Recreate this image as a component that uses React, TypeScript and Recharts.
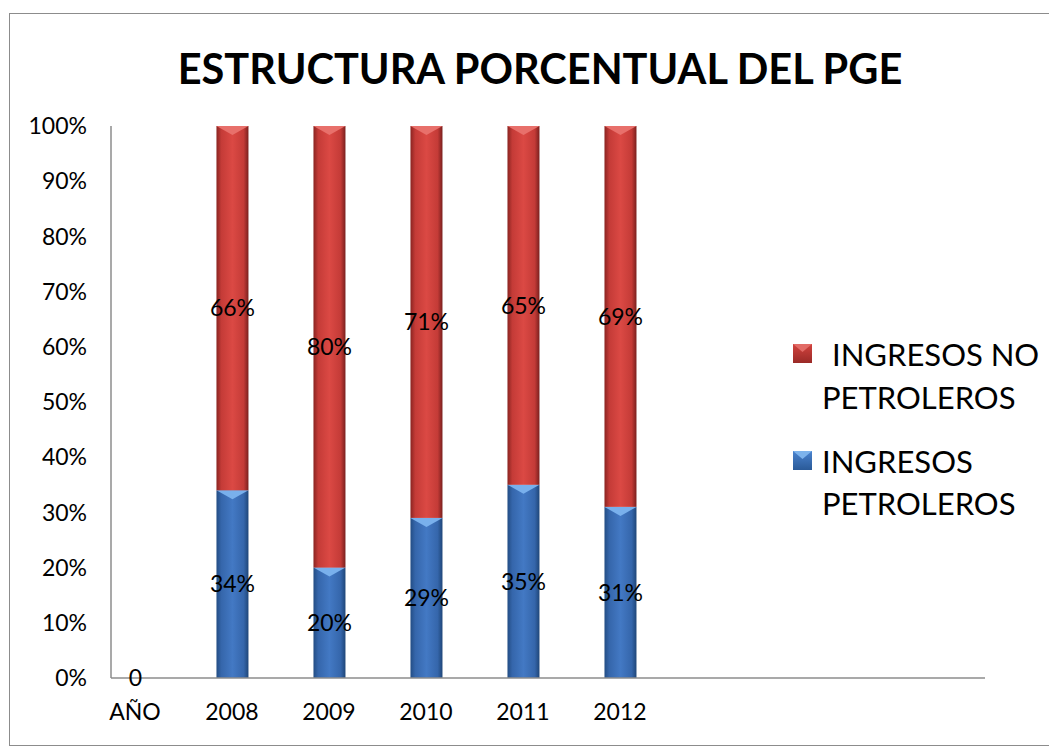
import { BarChart, Bar, XAxis, YAxis, LabelList, Legend } from "recharts";

const categories = ["AÑO", "2008", "2009", "2010", "2011", "2012"];
const petroleros = [0, 34, 20, 29, 35, 31];
const noPetroleros = [0, 66, 80, 71, 65, 69];
const yTicks = [0, 10, 20, 30, 40, 50, 60, 70, 80, 90, 100];

const data = categories.map((c, i) => ({
  idx: i,
  name: c,
  petro: petroleros[i],
  noPetro: noPetroleros[i],
}));

const FONT = "Lato, 'Open Sans', sans-serif";

function BevelBar(props: any) {
  const { x, y, width, height, fill, tip } = props;
  if (!height || height <= 0) return null;
  const b = Math.min(9, height / 2);
  return (
    <g>
      <rect x={x} y={y} width={width} height={height} fill={fill} />
      <polygon points={`${x},${y} ${x + width},${y} ${x + width / 2},${y + b}`} fill={tip} />
    </g>
  );
}

function LegendBox({ color, tip }: { color: string; tip: string }) {
  return (
    <svg width={19} height={19} style={{ position: "absolute", left: 0, top: 0 }}>
      <rect x={0} y={0} width={19} height={19} fill={color} />
      <polygon points="0,0 19,0 9.5,8" fill={tip} />
    </svg>
  );
}

function CustomLegend() {
  const txt: React.CSSProperties = { fontFamily: FONT, fontSize: 31, color: "#000", lineHeight: "42px", whiteSpace: "nowrap" };
  return (
    <div style={{ position: "absolute", left: 785, top: 325, width: 270 }}>
      <div style={{ position: "relative", height: 111 }}>
        <div style={{ position: "absolute", left: 0, top: 11 }}>
          <LegendBox color="url(#redLeg)" tip="#e26b66" />
        </div>
        <div style={{ ...txt, position: "absolute", left: 39, top: 0 }}>INGRESOS NO</div>
        <div style={{ ...txt, position: "absolute", left: 29, top: 43 }}>PETROLEROS</div>
      </div>
      <div style={{ position: "relative", height: 104 }}>
        <div style={{ position: "absolute", left: 0, top: 7 }}>
          <LegendBox color="url(#blueLeg)" tip="#7db3ec" />
        </div>
        <div style={{ ...txt, position: "absolute", left: 29, top: -4 }}>INGRESOS</div>
        <div style={{ ...txt, position: "absolute", left: 29, top: 38 }}>PETROLEROS</div>
      </div>
    </div>
  );
}

export default function App() {
  return (
    <div style={{ position: "relative", width: 1049, height: 745, background: "#fff" }}>
      <div
        style={{
          position: "absolute",
          left: 1,
          top: 5,
          width: 1041,
          height: 733,
          border: "1px solid #8c8c8c",
          boxSizing: "border-box",
        }}
      />
      <div
        style={{
          position: "absolute",
          left: 532,
          top: 35,
          transform: "translateX(-50%)",
          whiteSpace: "nowrap",
          fontFamily: FONT,
          fontWeight: 700,
          fontSize: 41.5,
          lineHeight: "50px",
          color: "#000",
        }}
      >
        ESTRUCTURA PORCENTUAL DEL PGE
      </div>
      <div style={{ position: "absolute", left: 0, top: 0 }}>
        <BarChart width={1049} height={745} data={data} margin={{ top: 118, right: 72, bottom: 35, left: 43 }}>
          <defs>
            <linearGradient id="redGrad" x1="0" y1="0" x2="1" y2="0">
              <stop offset="0" stopColor="#8a2421" />
              <stop offset="0.15" stopColor="#c43b37" />
              <stop offset="0.5" stopColor="#db4944" />
              <stop offset="0.85" stopColor="#c43b37" />
              <stop offset="1" stopColor="#7a201e" />
            </linearGradient>
            <linearGradient id="blueGrad" x1="0" y1="0" x2="1" y2="0">
              <stop offset="0" stopColor="#234d84" />
              <stop offset="0.15" stopColor="#3566ab" />
              <stop offset="0.5" stopColor="#4379c4" />
              <stop offset="0.85" stopColor="#3566ab" />
              <stop offset="1" stopColor="#1f4678" />
            </linearGradient>
            <linearGradient id="redLeg" x1="0" y1="0" x2="0" y2="1">
              <stop offset="0" stopColor="#d2433e" />
              <stop offset="1" stopColor="#9a2a27" />
            </linearGradient>
            <linearGradient id="blueLeg" x1="0" y1="0" x2="0" y2="1">
              <stop offset="0" stopColor="#4a83cf" />
              <stop offset="1" stopColor="#2a5a98" />
            </linearGradient>
          </defs>
          <XAxis
            dataKey="idx"
            type="number"
            domain={[-0.247, 8.763]}
            allowDataOverflow
            ticks={[0, 1, 2, 3, 4, 5]}
            tickFormatter={(v: number) => categories[v] ?? ""}
            axisLine={{ stroke: "#8c8c8c", strokeWidth: 1.5 }}
            tickLine={false}
            tickSize={0}
            tickMargin={26}
            height={40}
            tick={{ fontFamily: FONT, fontSize: 23, fill: "#000" }}
          />
          <YAxis
            domain={[0, 100]}
            ticks={yTicks}
            tickFormatter={(v: number) => `${v}%`}
            axisLine={{ stroke: "#8c8c8c", strokeWidth: 1.5 }}
            tickLine={false}
            tickSize={0}
            tickMargin={24}
            width={60}
            interval={0}
            tick={{ fontFamily: FONT, fontSize: 23, fill: "#000" }}
          />
          <Legend content={() => null} />
          <Bar
            dataKey="petro"
            name="INGRESOS PETROLEROS"
            stackId="a"
            barSize={32}
            fill="url(#blueGrad)"
            shape={(p: any) => <BevelBar {...p} fill="url(#blueGrad)" tip="#79b0ec" />}
            isAnimationActive={false}
          >
            <LabelList
              dataKey="petro"
              position="center"
              formatter={(v: any) => (v === 0 ? "0" : `${v}%`)}
              style={{ fontFamily: FONT, fontSize: 23, fill: "#000" }}
            />
          </Bar>
          <Bar
            dataKey="noPetro"
            name="INGRESOS NO PETROLEROS"
            stackId="a"
            barSize={32}
            fill="url(#redGrad)"
            shape={(p: any) => <BevelBar {...p} fill="url(#redGrad)" tip="#e8706b" />}
            isAnimationActive={false}
          >
            <LabelList
              dataKey="noPetro"
              position="center"
              formatter={(v: any) => (v === 0 ? "" : `${v}%`)}
              style={{ fontFamily: FONT, fontSize: 23, fill: "#000" }}
            />
          </Bar>
        </BarChart>
      </div>
      <CustomLegend />
    </div>
  );
}
